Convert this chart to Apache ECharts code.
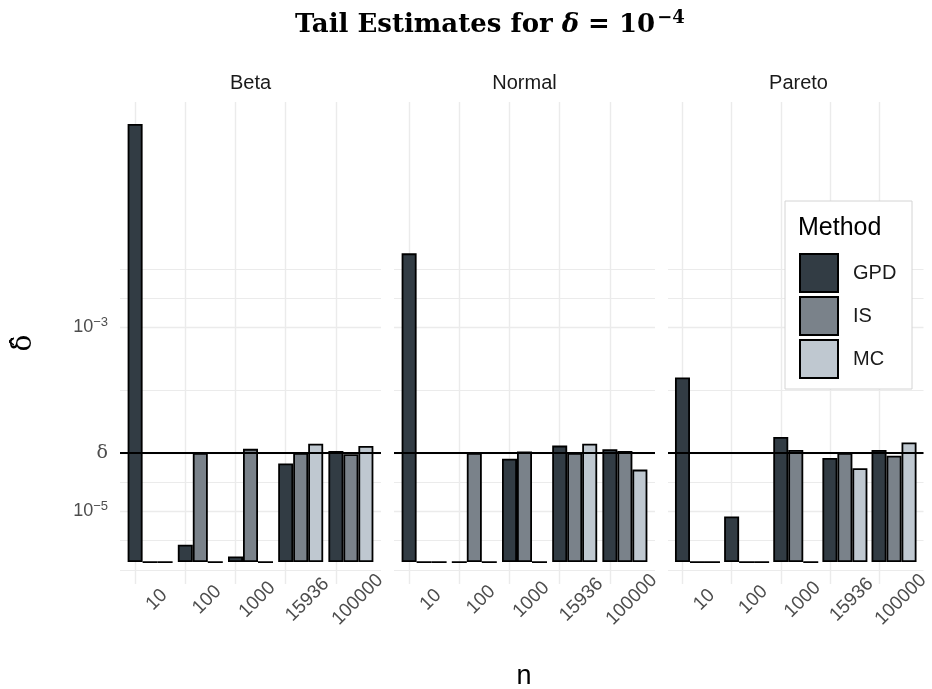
<!DOCTYPE html>
<html>
<head>
<meta charset="utf-8">
<script src="https://cdn.jsdelivr.net/npm/echarts@6/dist/echarts.min.js"></script>
<style>html,body{margin:0;padding:0;background:#fff}#c{width:932px;height:689px}</style>
</head>
<body>
<div id="c"></div>
<script>
// ---- data ----
var nCats = ['10', '100', '1000', '15936', '100000'];
var facets = ['Beta', 'Normal', 'Pareto'];
var methods = ['GPD', 'IS', 'MC'];
var betaGPD = [6.49e-3, 4.0e-7, 1.4e-8, 7.4e-5, 1.06e-4];
var betaIS = [0, 1.0e-4, 1.12e-4, 1.0e-4, 9.7e-5];
var betaMC = [0, 0, 0, 1.28e-4, 1.21e-4];
var normalGPD = [2.27e-3, 0, 8.5e-5, 1.22e-4, 1.11e-4];
var normalIS = [0, 1.0e-4, 1.04e-4, 1.0e-4, 1.06e-4];
var normalMC = [0, 0, 0, 1.28e-4, 6.1e-5];
var paretoGPD = [4.85e-4, 7.3e-6, 1.51e-4, 8.7e-5, 1.09e-4];
var paretoIS = [0, 0, 1.09e-4, 1.0e-4, 9.3e-5];
var paretoMC = [0, 0, 0, 6.4e-5, 1.32e-4];
var delta = 1e-4;
var yBreaks = [1e-5, 1e-4, 1e-3];
var yBreakLabels = ['10{sup|\u22125}', '{d|\u03b4}', '10{sup|\u22123}'];

var facetData = [
  [betaGPD, betaIS, betaMC],
  [normalGPD, normalIS, normalMC],
  [paretoGPD, paretoIS, paretoMC]
];
var colors = ['#323c44', '#7a828a', '#bfc8d0'];

// cube-root transform
function tr(v) { return Math.cbrt(v); }

var maxT = 0;
facetData.forEach(function (f) { f.forEach(function (s) { s.forEach(function (v) { maxT = Math.max(maxT, tr(v)); }); }); });
var yMin = -0.05 * maxT, yMax = 1.05 * maxT;

// ggplot-like grid lines
var b = yBreaks.map(tr);
var bd = b[1] - b[0];
var ext = [b[0] - bd].concat(b).concat([b[b.length - 1] + bd]);
var minor = [ext[0], ext[ext.length - 1]];
for (var i = 0; i < ext.length - 1; i++) minor.push((ext[i] + ext[i + 1]) / 2);
minor = minor.filter(function (t) { return t > yMin && t < yMax; });

var lefts = [120, 394, 668];
var W = 261;
var grids = [], xAxes = [], yAxes = [], series = [], graphics = [];

facets.forEach(function (fname, fi) {
  grids.push({ left: lefts[fi], width: W, top: 102, bottom: 105 });
  xAxes.push({
    type: 'value', gridIndex: fi, min: -0.6, max: 4.6,
    axisLine: { show: false }, axisTick: { show: false }, splitLine: { show: false },
    axisLabel: {
      customValues: [0, 1, 2, 3, 4],
      rotate: 45, align: 'center', verticalAlign: 'top', margin: 9,
      fontSize: 19, color: '#4d4d4d', fontFamily: 'Liberation Sans',
      formatter: function (v) { var k = Math.round(v); return (Math.abs(v - k) < 1e-6 && nCats[k]) ? nCats[k] : ''; }
    }
  });
  yAxes.push({
    type: 'value', gridIndex: fi, min: yMin, max: yMax,
    axisLine: { show: false }, axisTick: { show: false }, splitLine: { show: false },
    axisLabel: {
      show: fi === 0,
      customValues: b,
      margin: 12,
      fontSize: 18, color: '#4d4d4d', fontFamily: 'Liberation Sans',
      formatter: function (v) {
        for (var j = 0; j < b.length; j++) if (Math.abs(v - b[j]) < 1e-9) return yBreakLabels[j];
        return '';
      },
      rich: {
        sup: { fontSize: 13, verticalAlign: 'bottom', padding: [0, 0, 10, 0], color: '#4d4d4d', fontFamily: 'Liberation Sans' },
        d: { fontSize: 19, color: '#4d4d4d', fontFamily: 'DejaVu Serif' }
      }
    }
  });

  var gridLines = [];
  b.forEach(function (t) { gridLines.push({ yAxis: t, lineStyle: { color: '#ebebeb', width: 1.4 } }); });
  minor.forEach(function (t) { gridLines.push({ yAxis: t, lineStyle: { color: '#ebebeb', width: 1.0 } }); });
  for (var k = 0; k < nCats.length; k++) gridLines.push({ xAxis: k, lineStyle: { color: '#ebebeb', width: 1.4 } });

  methods.forEach(function (m, mi) {
    var s = {
      type: 'bar', name: m, xAxisIndex: fi, yAxisIndex: fi,
      data: facetData[fi][mi].map(function (v, k) { return [k, tr(v)]; }),
      barWidth: 15, barGap: '0%',
      itemStyle: { color: colors[mi], borderColor: '#000', borderWidth: 1.8 },
      emphasis: { disabled: true },
      z: 2
    };
    if (mi === 0) {
      s.markLine = { silent: true, symbol: ['none', 'none'], z: 1, animation: false, precision: 10,
        label: { show: false }, lineStyle: { type: 'solid' }, data: gridLines };
    }
    if (mi === 1) {
      s.markLine = { silent: true, symbol: ['none', 'none'], z: 6, animation: false, precision: 10,
        label: { show: false },
        data: [{ yAxis: tr(delta), lineStyle: { type: 'solid', color: '#000', width: 2 } }] };
    }
    series.push(s);
  });

  graphics.push({ type: 'text', x: lefts[fi] + W / 2, y: 83, z: 10,
    style: { text: fname, fontSize: 20, fill: '#1a1a1a', fontFamily: 'Liberation Sans', align: 'center', verticalAlign: 'middle' } });
});

// legend box + title
graphics.push({ type: 'rect', shape: { x: 785, y: 201, width: 127, height: 188 }, z: 10,
  style: { fill: '#fff', stroke: '#d4d4d4', lineWidth: 1 } });
graphics.push({ type: 'text', x: 798, y: 228, z: 30,
  style: { text: 'Method', fontSize: 25, fill: '#000', fontFamily: 'Liberation Sans', align: 'left', verticalAlign: 'middle' } });
// x axis title
graphics.push({ type: 'text', x: 524, y: 677, z: 10,
  style: { text: 'n', fontSize: 27, fill: '#000', fontFamily: 'Liberation Sans', align: 'center', verticalAlign: 'middle' } });
// y axis title: delta hat, rotated
graphics.push({ type: 'text', x: 24, y: 343, rotation: Math.PI / 2, z: 10,
  style: { text: '\u03b4\u0302', fontSize: 28, fill: '#000', fontFamily: 'DejaVu Serif', align: 'center', verticalAlign: 'middle' } });

var chart = echarts.init(document.getElementById('c'));
chart.setOption({
  animation: false,
  backgroundColor: '#fff',
  title: {
    left: 290, top: 4,
    text: '{a|Tail Estimates for }{i|\u03b4}{a| = 10}{s|\u22124}',
    textStyle: {
      rich: {
        a: { fontSize: 26, fontWeight: 'bold', fontFamily: 'DejaVu Serif', color: '#000' },
        i: { fontSize: 26, fontWeight: 'bold', fontStyle: 'italic', fontFamily: 'DejaVu Serif', color: '#000' },
        s: { fontSize: 18, fontWeight: 'bold', fontFamily: 'DejaVu Serif', color: '#000', verticalAlign: 'bottom', padding: [0, 0, 15, 2] }
      }
    }
  },
  legend: {
    data: methods, orient: 'vertical', left: 794, top: 248, z: 30,
    itemWidth: 38, itemHeight: 38, itemGap: 3, icon: 'rect',
    selectedMode: false,
    textStyle: { fontSize: 20, color: '#1a1a1a', fontFamily: 'Liberation Sans', padding: [0, 0, 0, 10] }
  },
  grid: grids, xAxis: xAxes, yAxis: yAxes, series: series, graphic: graphics
});
</script>
</body>
</html>
